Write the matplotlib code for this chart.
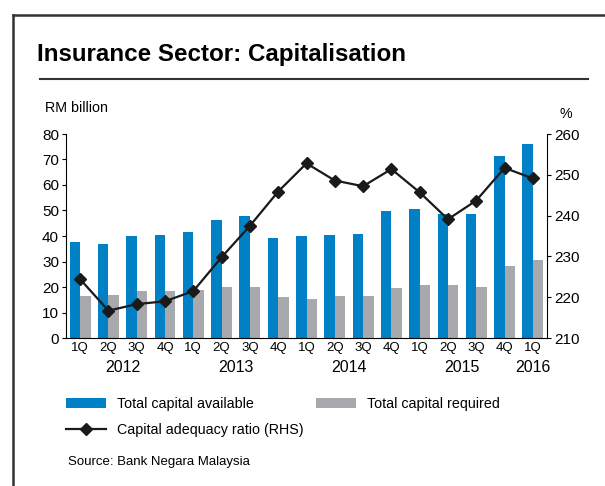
import numpy as np
import matplotlib.pyplot as plt
from matplotlib.lines import Line2D

plt.rcParams['font.family'] = ['Liberation Sans', 'DejaVu Sans']

# quarterly data 1Q2012 - 1Q2016
quarters = ['1Q', '2Q', '3Q', '4Q'] * 4 + ['1Q']
years = ['2012', '2013', '2014', '2015', '2016']
year_pos = [1.5, 5.5, 9.5, 13.5, 16]

capital_available = [37.5, 37.0, 39.9, 40.3, 41.7, 46.4, 47.7, 39.3, 39.9,
                     40.3, 40.7, 49.8, 50.6, 48.6, 48.6, 71.4, 76.0]
capital_required = [16.3, 17.0, 18.3, 18.3, 18.8, 20.1, 20.1, 16.0, 15.4,
                    16.5, 16.5, 19.6, 20.7, 20.7, 20.1, 28.2, 30.5]
car = [224.4, 216.7, 218.3, 219.0, 221.5, 229.8, 237.5, 245.9, 252.8,
       248.6, 247.2, 251.4, 245.7, 239.1, 243.7, 251.7, 249.1]

blue = '#0081C6'
grey = '#A7A9AC'

W, H = 605, 486
fig = plt.figure(figsize=(W / 100, H / 100), dpi=100)

def fx(px):
    return px / W

def fy(py):
    return 1 - py / H

# outer frame (top and left only) and title rule
fig.add_artist(Line2D([fx(13), fx(13)], [fy(15), 0], color='#333333', lw=1.8))
fig.add_artist(Line2D([fx(13), 1], [fy(15), fy(15)], color='#333333', lw=1.8))
fig.add_artist(Line2D([fx(40), fx(588)], [fy(79), fy(79)], color='#333333', lw=1.5))

fig.text(fx(37), fy(54), 'Insurance Sector: Capitalisation', fontsize=17.4,
         fontweight='bold', va='center', ha='left')
fig.text(fx(45), fy(108), 'RM billion', fontsize=10.3, va='center', ha='left')
fig.text(fx(566), fy(114), '%', fontsize=10.3, va='center', ha='center')

ax = fig.add_axes([fx(66), fy(338), fx(547) - fx(66), fy(134) - fy(338)])
x = np.arange(len(quarters))
w = 0.37
b1 = ax.bar(x - w / 2, capital_available, w, color=blue, label='Total capital available')
b2 = ax.bar(x + w / 2, capital_required, w, color=grey, label='Total capital required')
ax.set_xlim(-0.5, len(quarters) - 0.5)
ax.set_ylim(0, 80)
ax.set_yticks(range(0, 81, 10))
ax.set_xticks(x)
ax.set_xticklabels(quarters, fontsize=9.5)
ax.tick_params(axis='x', length=0, pad=3)
ax.tick_params(axis='y', labelsize=11, length=3, pad=2)
for s in ['top', 'right']:
    ax.spines[s].set_visible(False)

for yr, p in zip(years, year_pos):
    ax.text(p, -0.145, yr, transform=ax.get_xaxis_transform(), ha='center',
            va='center', fontsize=11.5)

ax2 = ax.twinx()
ln, = ax2.plot(x, car, color='#1a1a1a', lw=1.6, marker='D', markersize=6,
               label='Capital adequacy ratio (RHS)')
ax2.set_ylim(210, 260)
ax2.set_yticks(range(210, 261, 10))
ax2.tick_params(axis='y', labelsize=11, length=3, pad=2)
for s in ['top', 'left', 'bottom']:
    ax2.spines[s].set_visible(False)

fig.legend([b1, ln, b2],
           ['Total capital available', 'Capital adequacy ratio (RHS)', 'Total capital required'],
           ncol=2, loc='upper left', bbox_to_anchor=(fx(66), fy(397)),
           frameon=False, fontsize=10.3, handlelength=2.8, handleheight=0.7,
           handletextpad=0.75, columnspacing=0.9, labelspacing=0.85,
           borderpad=0, borderaxespad=0)

fig.text(fx(68), fy(462), 'Source: Bank Negara Malaysia', fontsize=9.5,
         va='center', ha='left')

fig.savefig('out.png', dpi=100)
